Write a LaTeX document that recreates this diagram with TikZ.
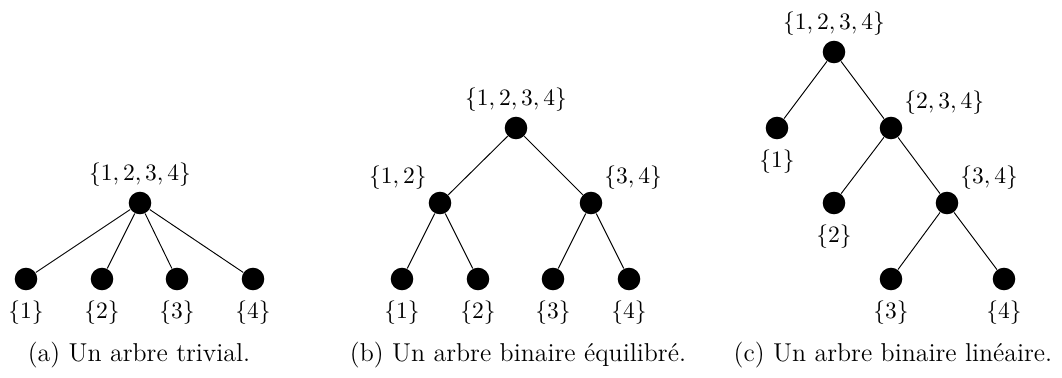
\documentclass[tikz,border=0pt]{standalone}
\begin{document}
\begin{tikzpicture}[x=0.4255pt,y=-0.4255pt,
  every label/.style={font=\normalsize,inner sep=2pt},
  pt/.style={circle,fill=black,inner sep=0pt,minimum size=9.6pt},
  leaf/.style={pt,label={[yshift=-2pt]below:$\{#1\}$}},
  captext/.style={font=\fontsize{11}{13}\selectfont}]
\useasboundingbox (0,0) rectangle (1062,378);
% (a) trivial tree
\node[pt,label=above:{$\{1,2,3,4\}$}] (a) at (140,203) {};
\node[leaf=1] (a1) at (26,279) {};
\node[leaf=2] (a2) at (102,279) {};
\node[leaf=3] (a3) at (177,279) {};
\node[leaf=4] (a4) at (253,279) {};
\foreach \i in {1,...,4} \draw (a) -- (a\i);
\node[captext] (capa) at (139,355) {(a) Un arbre trivial.};
% (b) balanced binary tree
\node[pt,label=above:{$\{1,2,3,4\}$}] (b) at (516,128) {};
\node[pt,label=above left:{$\{1,2\}$}] (bl) at (440,203) {};
\node[pt,label=above right:{$\{3,4\}$}] (br) at (591,203) {};
\node[leaf=1] (b1) at (402,279) {};
\node[leaf=2] (b2) at (478,279) {};
\node[leaf=3] (b3) at (553,279) {};
\node[leaf=4] (b4) at (629,279) {};
\draw (b) -- (bl) (b) -- (br);
\draw (bl) -- (b1) (bl) -- (b2) (br) -- (b3) (br) -- (b4);
\node[captext] (capb) at (518,355) {(b) Un arbre binaire équilibré.};
% (c) linear binary tree
\node[pt,label=above:{$\{1,2,3,4\}$}] (c) at (834,52) {};
\node[leaf=1] (c1) at (777,128) {};
\node[pt,label=above right:{$\{2,3,4\}$}] (c234) at (891,128) {};
\node[leaf=2] (c2) at (834,203) {};
\node[pt,label=above right:{$\{3,4\}$}] (c34) at (947,203) {};
\node[leaf=3] (c3) at (891,279) {};
\node[leaf=4] (c4) at (1004,279) {};
\draw (c) -- (c1) (c) -- (c234);
\draw (c234) -- (c2) (c234) -- (c34);
\draw (c34) -- (c3) (c34) -- (c4);
\node[captext] (capc) at (893,355) {(c) Un arbre binaire linéaire.};
\end{tikzpicture}
\end{document}
